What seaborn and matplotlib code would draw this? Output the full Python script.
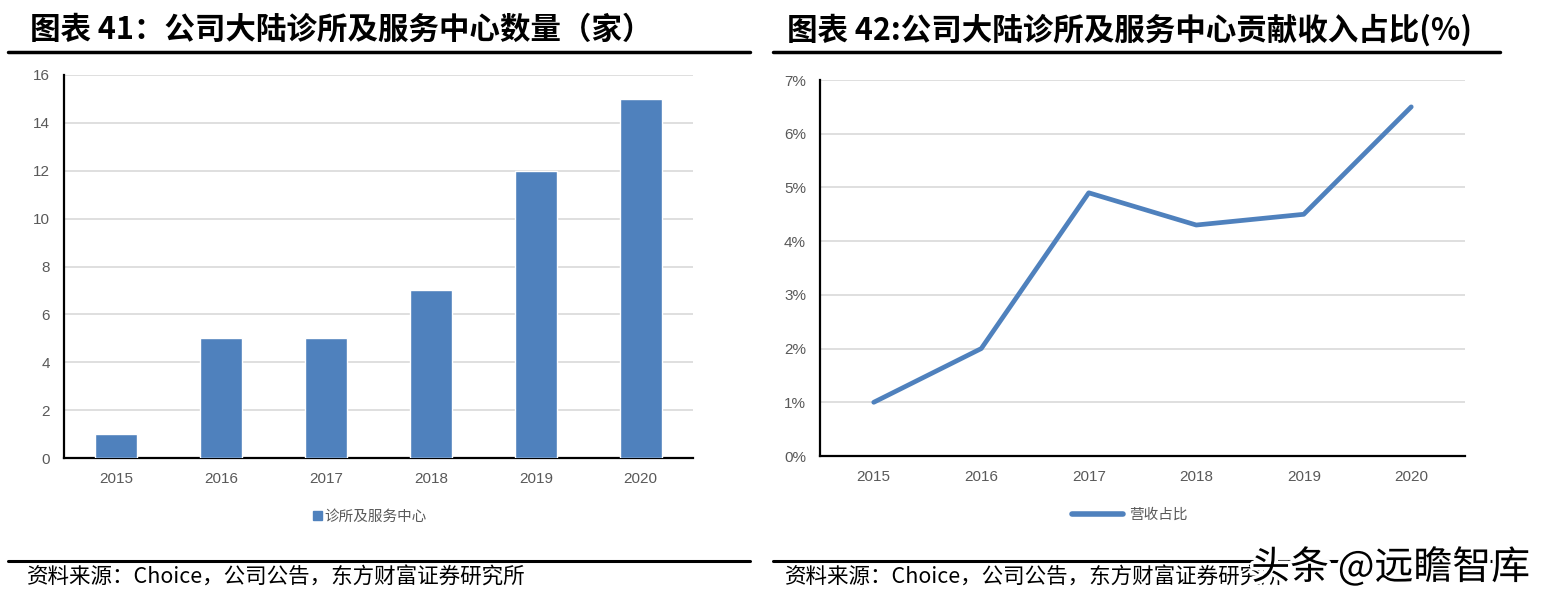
import matplotlib
matplotlib.use("Agg")
import matplotlib.pyplot as plt
import matplotlib.patheffects as pe
from matplotlib.lines import Line2D
from matplotlib.patches import Patch
import seaborn as sns
import pandas as pd

years = ["2015", "2016", "2017", "2018", "2019", "2020"]
clinic_counts = [1, 5, 5, 7, 12, 15]
revenue_share = [1.0, 2.0, 4.9, 4.3, 4.5, 6.5]
left_yticks = [0, 2, 4, 6, 8, 10, 12, 14, 16]
right_yticks = [0, 1, 2, 3, 4, 5, 6, 7]
title_left = "图表 41：公司大陆诊所及服务中心数量（家）"
title_right = "图表 42:公司大陆诊所及服务中心贡献收入占比(%)"
legend_left = "诊所及服务中心"
legend_right = "营收占比"
source = "资料来源：Choice，公司公告，东方财富证券研究所"
watermark = "头条 @远瞻智库"

sns.set_theme(style="white")
plt.rcParams['font.family'] = ['Noto Sans CJK SC', 'DejaVu Sans']

W, H = 1546, 606
fig = plt.figure(figsize=(W / 100, H / 100), dpi=100)

def ax_rect(x0, y0, x1, y1):
    return [x0 / W, 1 - y1 / H, (x1 - x0) / W, (y1 - y0) / H]

blue = "#4F81BD"
gray_txt = "#595959"
grid_c = "#D9D9D9"
tick_font = ['Liberation Sans Narrow', 'Liberation Sans', 'DejaVu Sans']

df_bar = pd.DataFrame({"year": years, "count": clinic_counts})
df_line = pd.DataFrame({"year": years, "share": revenue_share})

# Left chart
ax1 = fig.add_axes(ax_rect(64, 75, 693, 458))
sns.barplot(data=df_bar, x="year", y="count", color=blue, width=0.4,
            saturation=1, ax=ax1, zorder=3)
ax1.set_xlim(-0.5, 5.5)
ax1.set_ylim(0, 16)
ax1.set_yticks(left_yticks)
ax1.yaxis.grid(True, color=grid_c, linewidth=1.2, zorder=0)
ax1.set_axisbelow(True)
ax1.set_xlabel("")
ax1.set_ylabel("")

# Right chart
ax2 = fig.add_axes(ax_rect(820, 80, 1465, 456))
sns.lineplot(data=df_line, x="year", y="share", color=blue, linewidth=3.4,
             ax=ax2, sort=False, solid_capstyle="round", zorder=3)
ax2.set_xlim(-0.5, 5.5)
ax2.set_ylim(0, 7)
ax2.set_yticks(right_yticks)
ax2.set_yticklabels([f"{v}%" for v in right_yticks])
ax2.yaxis.grid(True, color=grid_c, linewidth=1.2, zorder=0)
ax2.set_axisbelow(True)
ax2.set_xlabel("")
ax2.set_ylabel("")

for ax in (ax1, ax2):
    for s in ("top", "right"):
        ax.spines[s].set_visible(False)
    for s in ("left", "bottom"):
        ax.spines[s].set_color("black")
        ax.spines[s].set_linewidth(1.6)
    ax.tick_params(axis="both", length=0, labelsize=11, colors=gray_txt, pad=10)
    for lab in ax.get_xticklabels() + ax.get_yticklabels():
        lab.set_family(tick_font)

ax1.legend(handles=[Patch(color=blue, label=legend_left)], loc="center",
           bbox_to_anchor=(370 / W, 1 - 517 / H), bbox_transform=fig.transFigure,
           frameon=False, handlelength=0.6, handleheight=0.6, handletextpad=0.2,
           prop={"size": 10.5}, labelcolor=gray_txt)
ax2.legend(handles=[Line2D([0], [0], color=blue, linewidth=4, solid_capstyle="round",
                           label=legend_right)], loc="center",
           bbox_to_anchor=(1130 / W, 1 - 515 / H), bbox_transform=fig.transFigure,
           frameon=False, handlelength=3.5, handletextpad=0.4,
           prop={"size": 10.5}, labelcolor=gray_txt)

# Titles and rules
fig.text(30 / W, 1 - 30 / H, title_left, fontsize=22, fontweight="bold",
         va="center", ha="left", color="black")
fig.text(787 / W, 1 - 30 / H, title_right, fontsize=22, fontweight="bold",
         va="center", ha="left", color="black")
fig.add_artist(Line2D([8 / W, 750 / W], [1 - 52 / H] * 2, color="black", linewidth=2.5))
fig.add_artist(Line2D([773 / W, 1500 / W], [1 - 52 / H] * 2, color="black", linewidth=2.5))
fig.add_artist(Line2D([8 / W, 750 / W], [1 - 561 / H] * 2, color="black", linewidth=2.2))
fig.add_artist(Line2D([773 / W, 1500 / W], [1 - 561 / H] * 2, color="black", linewidth=2.2))

fig.text(27 / W, 1 - 578 / H, source, fontsize=15.5, va="center", ha="left", color="black")
fig.text(785 / W, 1 - 578 / H, source, fontsize=15.5, va="center", ha="left", color="black")

fig.text(1530 / W, 1 - 568 / H, watermark, fontsize=28, va="center", ha="right",
         color="black", path_effects=[pe.withStroke(linewidth=5, foreground="white")])

fig.savefig("out.png", dpi=100, facecolor="white")
